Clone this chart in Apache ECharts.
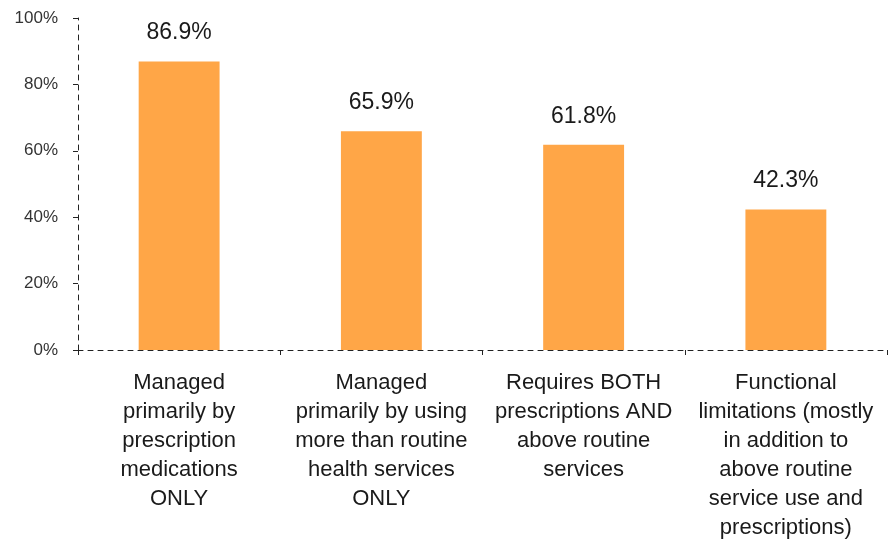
<!DOCTYPE html>
<html><head><meta charset="utf-8">
<script src="https://cdn.jsdelivr.net/npm/echarts@6/dist/echarts.min.js"></script>
<style>html,body{margin:0;padding:0;background:#fff}#c{width:896px;height:542px}</style>
</head><body><div id="c"></div>
<script>
const categories = [
  "Managed\nprimarily by\nprescription\nmedications\nONLY",
  "Managed\nprimarily by using\nmore than routine\nhealth services\nONLY",
  "Requires BOTH\nprescriptions AND\nabove routine\nservices",
  "Functional\nlimitations (mostly\nin addition to\nabove routine\nservice use and\nprescriptions)"
];
const values = [86.9, 65.9, 61.8, 42.3];
const yTicks = [0, 20, 40, 60, 80, 100];
const font = "Liberation Sans, Helvetica, Arial, sans-serif";
const chart = echarts.init(document.getElementById('c'), null, {renderer: 'canvas'});
chart.setOption({
  animation: false,
  grid: {left: 78, right: 9, top: 18, bottom: 190, containLabel: false},
  xAxis: {
    type: 'category', data: categories,
    axisLine: {lineStyle: {color: '#222', type: [5, 5], width: 1}},
    axisTick: {show: true, length: 5, lineStyle: {color: '#222'}},
    axisLabel: {color: '#1a1a1a', fontSize: 22, fontFamily: font, lineHeight: 29, margin: 18, interval: 0}
  },
  yAxis: {
    type: 'value', min: yTicks[0], max: yTicks[yTicks.length-1], interval: 20,
    axisLine: {show: true, lineStyle: {color: '#222', type: [5, 5], width: 1}},
    axisTick: {show: true, length: 5, lineStyle: {color: '#222'}},
    splitLine: {show: false},
    axisLabel: {color: '#333', fontSize: 17, fontFamily: font, margin: 20, formatter: v => v + '%'}
  },
  series: [{
    type: 'bar', data: values, barWidth: '40%',
    itemStyle: {color: '#FFA647'},
    label: {show: true, position: 'top', distance: 17, color: '#1a1a1a', fontSize: 23, fontFamily: font, formatter: p => p.value.toFixed(1) + '%'}
  }]
});
</script></body></html>
